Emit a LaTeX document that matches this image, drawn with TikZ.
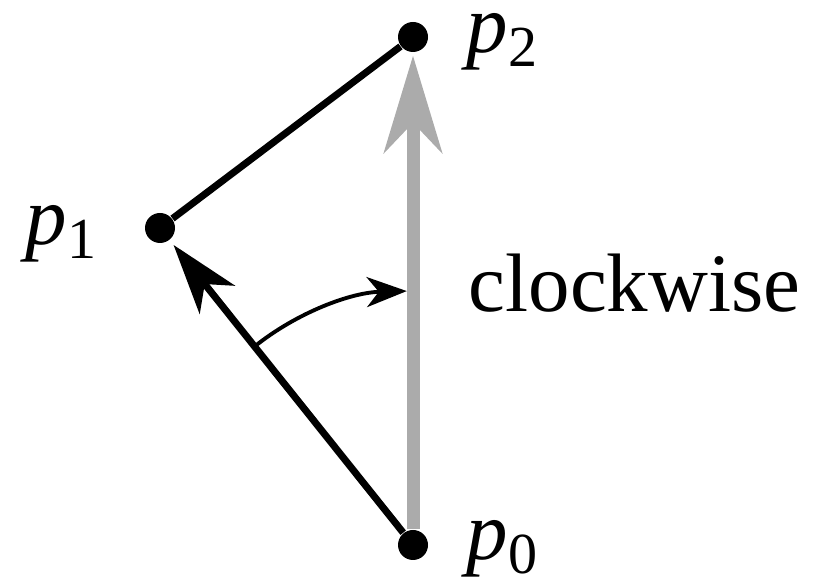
\documentclass[tikz,border=0pt]{standalone}
\usepackage{fontspec}
\setmainfont{Liberation Serif}
\usetikzlibrary{arrows.meta}

\begin{document}
\begin{tikzpicture}[
  vertex/.style={circle, fill=black, inner sep=0pt, minimum size=3mm},
  lbl/.style={anchor=base west, inner sep=0pt, text height=1.4ex, font=\fontsize{23.6}{28}\selectfont},
  grayarr/.style={-{Stealth[length=9.7mm, width=5.8mm, inset=3mm]}, line width=3.7pt, black!33},
  arr/.style={-{Stealth[length=7mm, width=4.5mm, inset=2mm]}, line width=2pt},
  sweep/.style={-{Stealth[length=4mm, width=3mm, inset=1.2mm]}, line width=1.1pt}
]
\useasboundingbox (0,0) rectangle (8.17,5.84);

% Points
\node[vertex] (p0) at (4.13,0.39) {};
\node[vertex] (p1) at (1.60,3.56) {};
\node[vertex] (p2) at (4.13,5.47) {};

% Labels
\node[lbl] (l0) at (4.66,0.24) {\textit{p}\textsubscript{0}};
\node[lbl] (l1) at (0.25,3.39) {\textit{p}\textsubscript{1}};
\node[lbl] (l2) at (4.66,5.31) {\textit{p}\textsubscript{2}};
\node[lbl] (cw) at (4.68,2.72) {clockwise};

% Edges
\draw[grayarr, shorten >=0.3mm] (p0) -- (p2);
\draw[arr, shorten >=0.6mm] (p0) -- (p1);
\draw[line width=2pt] (p1) -- (p2);
\draw[sweep] ([shift={(128.6:2.54)}]p0.center) arc[start angle=128.6, end angle=91.4, radius=2.54];

\end{tikzpicture}
\end{document}
